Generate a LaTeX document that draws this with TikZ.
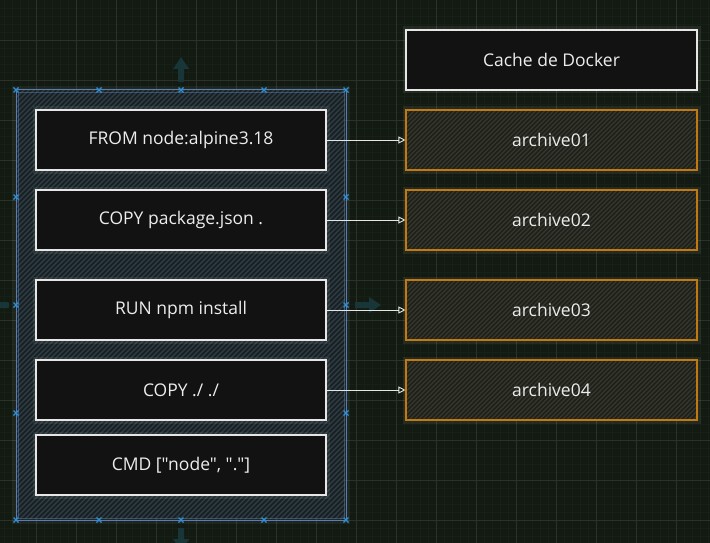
\documentclass[tikz,border=0pt]{standalone}
\usepackage{fontspec}
\setmainfont{Open Sans}[Ligatures=TeXOff]
\usetikzlibrary{arrows.meta}
\definecolor{bg}{HTML}{121A12}
\definecolor{minorg}{HTML}{172017}
\definecolor{majorg}{HTML}{2A322A}
\definecolor{boxfill}{HTML}{121212}
\definecolor{boxline}{HTML}{E6E6E6}
\definecolor{txt}{HTML}{EDEDED}
\definecolor{orangeline}{HTML}{C27A0E}
\definecolor{orangehatch}{HTML}{3A3629}
\definecolor{orangefill}{HTML}{1C211E}
\definecolor{grouphatch}{HTML}{303F47}
\definecolor{groupfill}{HTML}{182022}
\definecolor{groupline}{HTML}{5A7CB4}
\definecolor{handle}{HTML}{2E8FD6}
\definecolor{ghost}{HTML}{183538}
\tikzset{
  minorgrid/.style={draw=minorg, line width=0.5pt},
  majorgrid/.style={draw=majorg, line width=0.8pt},
  glow/.style={preaction={draw=white, draw opacity=0.07, line width=7pt}},
  stepbox/.style={draw=boxline, fill=boxfill, line width=1.1pt, minimum width=290pt,
    minimum height=60pt, inner sep=0pt, text=txt, font=\fontsize{17.5}{20}\selectfont, glow},
  headbox/.style={stepbox, minimum width=291pt},
  layerbox/.style={draw=orangeline, fill=orangefill, line width=1.1pt, minimum width=291pt,
    minimum height=60pt, inner sep=0pt, text=txt, font=\fontsize{17.5}{20}\selectfont, glow,
    path picture={\foreach \i in {-420,-415.5,...,320}
      \draw[orangehatch, line width=1.2pt] ([xshift=\i pt]path picture bounding box.south west) -- ++(120pt,120pt);}},
  arr/.style={draw=boxline, line width=0.9pt, -{Triangle[open, length=7pt, width=7pt]}},
  hx/.style={draw=handle, line width=1.3pt},
  ghostfill/.style={fill=ghost},
}
\begin{document}
\begin{tikzpicture}[x=1pt, y=-1pt]
\useasboundingbox (0,0) rectangle (710,543);
\fill[bg] (0,0) rectangle (710,543);
% grid
\foreach \x in {4,12,...,708} \draw[minorgrid] (\x,0) -- (\x,543);
\foreach \y in {8,16,...,540} \draw[minorgrid] (0,\y) -- (710,\y);
\foreach \x in {36,76,...,676} \draw[majorgrid] (\x,0) -- (\x,543);
\foreach \y in {40,80,...,520} \draw[majorgrid] (0,\y) -- (710,\y);
% ghost move arrows
\fill[ghostfill] (178,82) -- (178,69) -- (173,69) -- (181,57) -- (189,69) -- (184,69) -- (184,82) -- cycle;
\fill[ghostfill, rounded corners=1pt] (-2,302) rectangle (9,308);
\fill[ghostfill] (355,302) -- (369,302) -- (369,297) -- (381,305) -- (369,313) -- (369,308) -- (355,308) -- cycle;
\fill[ghostfill] (178,528) -- (184,528) -- (184,539) -- (189,539) -- (181,551) -- (173,539) -- (178,539) -- cycle;
% group background with hatching
\begin{scope}
  \fill[white, opacity=0.05] (12,86) rectangle (350,524);
  \clip (17,91) rectangle (345,519);
  \fill[groupfill] (17,91) rectangle (345,519);
  \foreach \i in {-480,-475,...,360}
    \draw[grouphatch, line width=1.2pt] (\i,519) -- ++(430,-430);
\end{scope}
\draw[groupline, line width=1pt] (16,90) rectangle (346,520);
\draw[groupline, line width=0.6pt, opacity=0.5] (18,92) rectangle (344,518);
% left steps
\node[stepbox] (b1) at (181,140) {FROM node:alpine3.18};
\node[stepbox] (b2) at (181,220) {COPY package.json .};
\node[stepbox] (b3) at (181,310) {RUN npm install};
\node[stepbox] (b4) at (181,390) {COPY ./ ./};
\node[stepbox] (b5) at (181,465) {CMD ["node", "."]};
% right cache
\node[headbox] (c0) at (551.5,60) {Cache de Docker};
\node[layerbox] (a1) at (551.5,140) {archive01};
\node[layerbox] (a2) at (551.5,220) {archive02};
\node[layerbox] (a3) at (551.5,310) {archive03};
\node[layerbox] (a4) at (551.5,390) {archive04};
% arrows
\draw[arr] (b1.east) -- (a1.west);
\draw[arr] (b2.east) -- (a2.west);
\draw[arr] (b3.east) -- (a3.west);
\draw[arr] (b4.east) -- (a4.west);
% selection handles
\foreach \p in {(16,90),(99,90),(181,90),(264,90),(346,90),
                (16,197),(346,197),(16,305),(346,305),(16,413),(346,413),
                (16,520),(99,520),(181,520),(264,520),(346,520)}
  \draw[hx] \p ++(-2.5,-2.5) -- ++(5,5) \p ++(-2.5,2.5) -- ++(5,-5);
\end{tikzpicture}
\end{document}
